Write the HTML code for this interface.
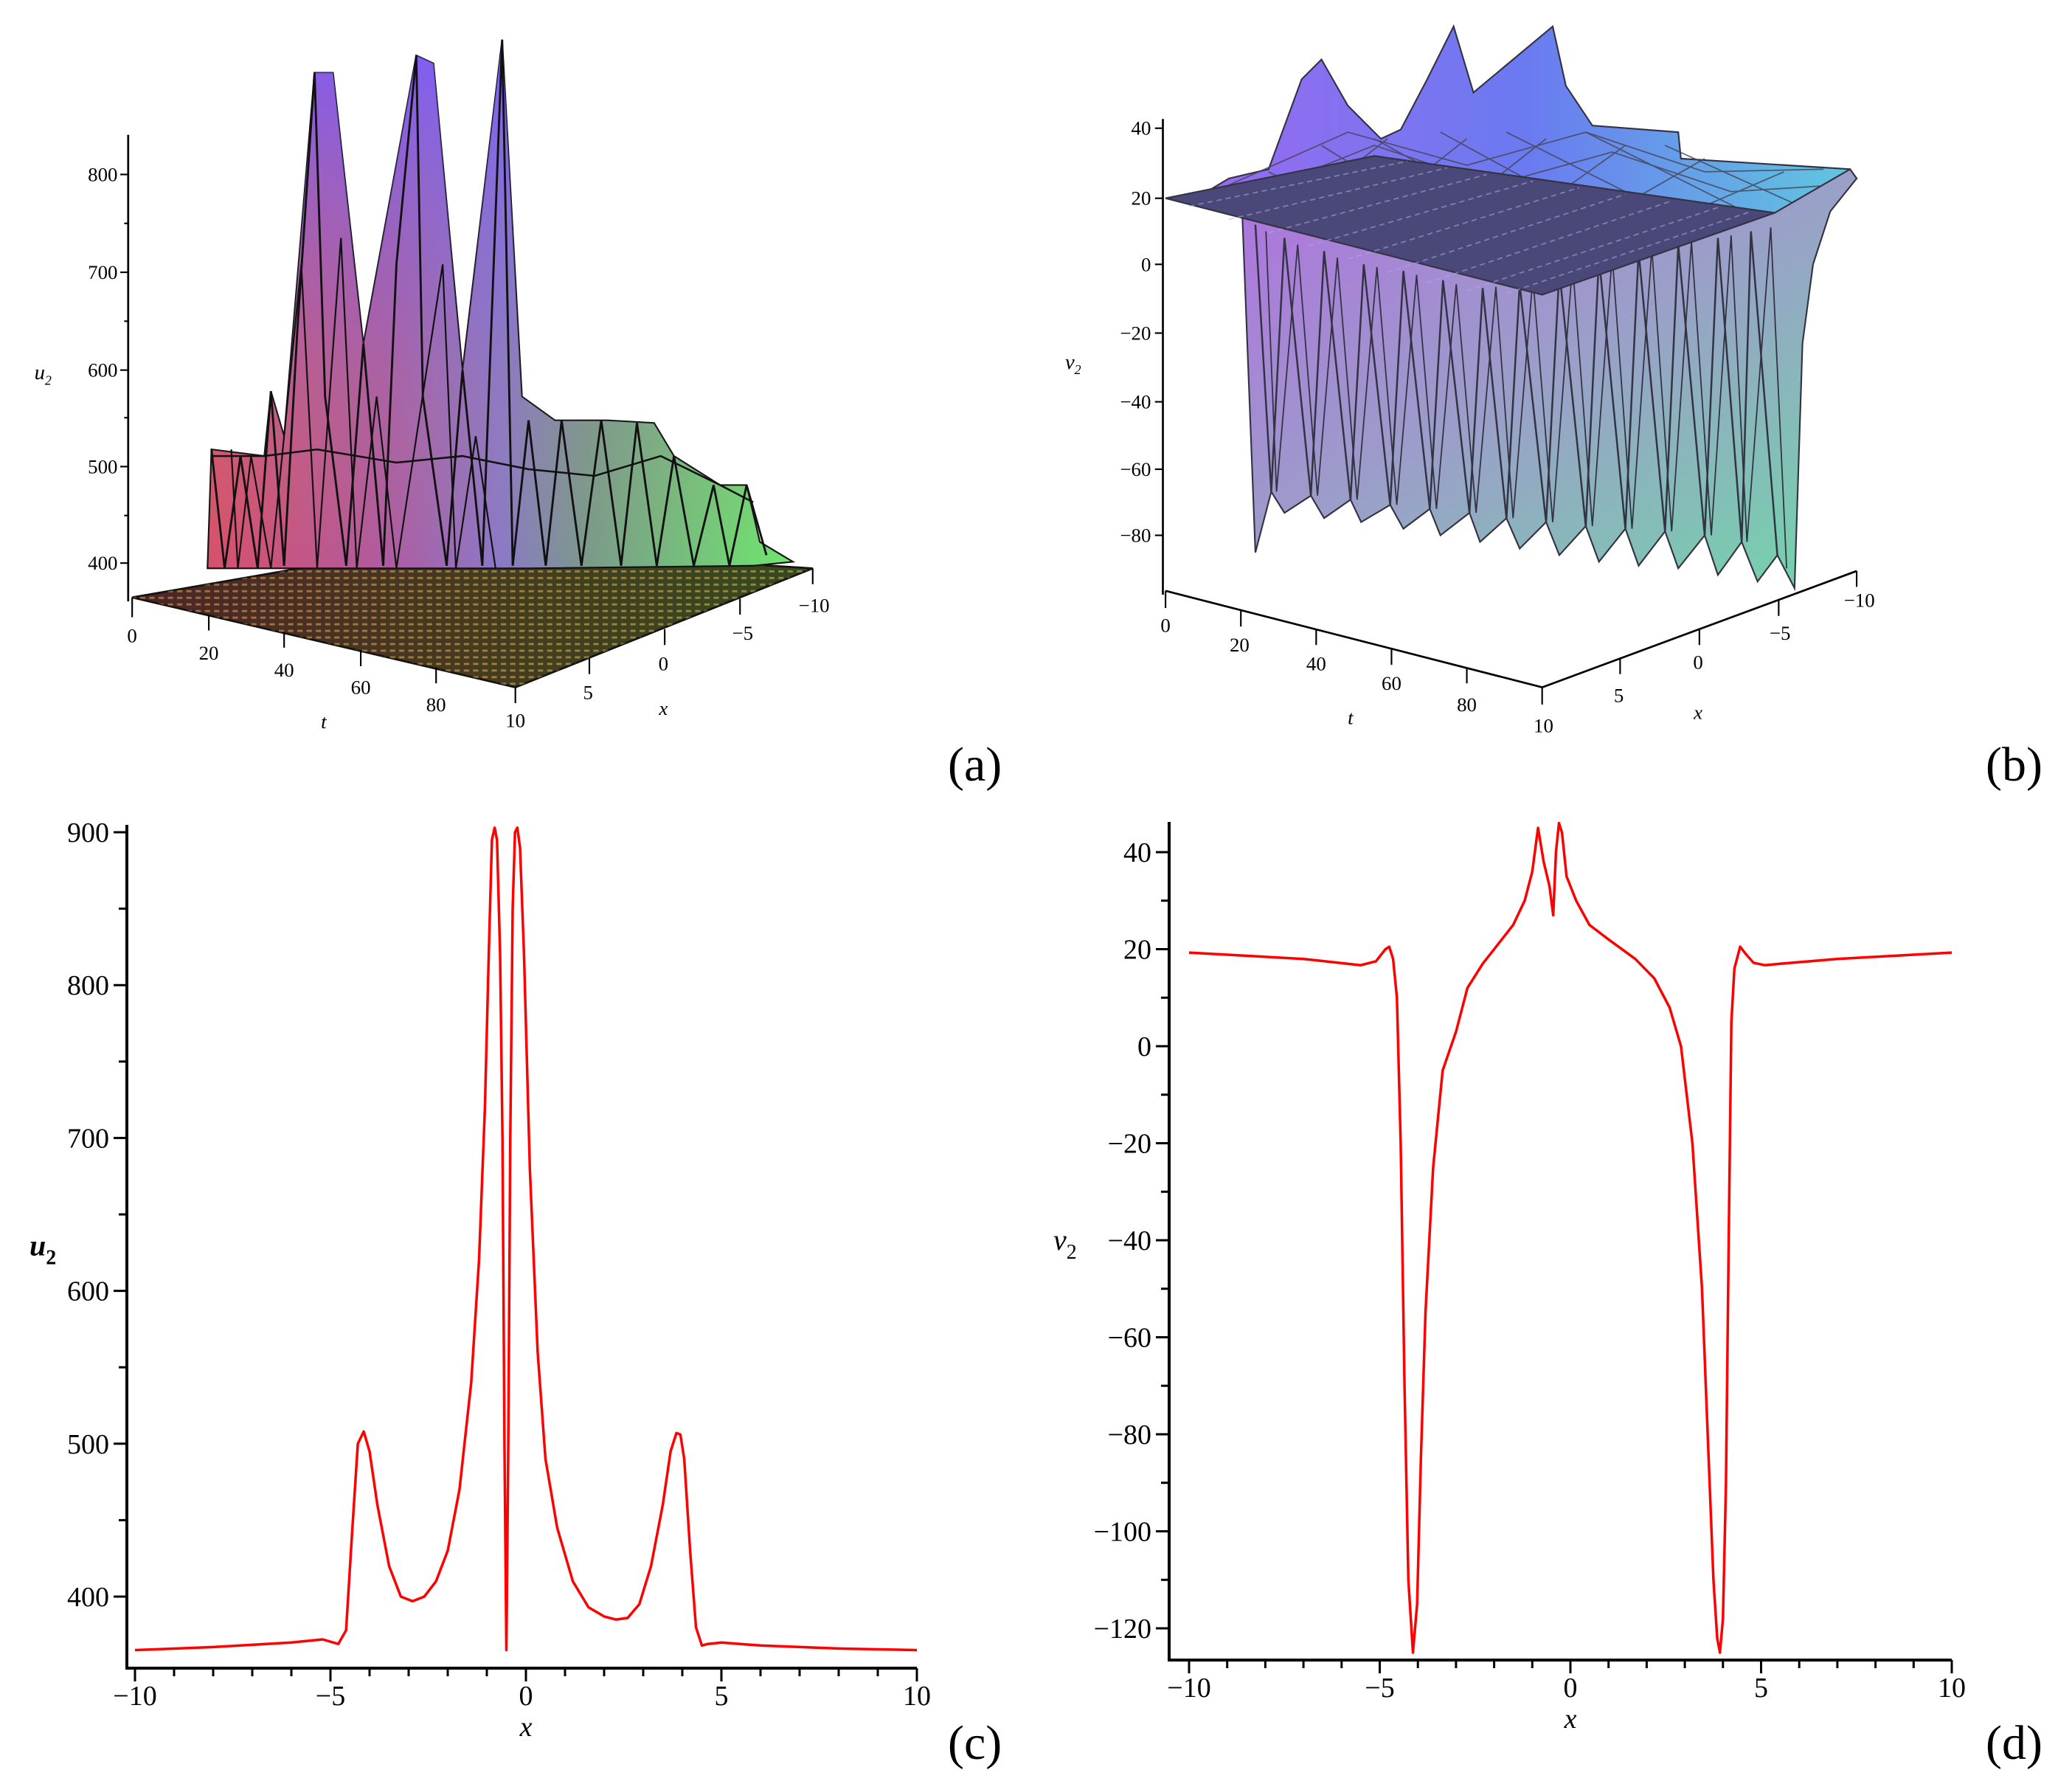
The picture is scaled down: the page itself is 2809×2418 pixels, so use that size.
<!DOCTYPE html>
<html><head><meta charset="utf-8"><style>
html,body{margin:0;padding:0;background:#fff}
svg{display:block}
text{font-family:"Liberation Serif",serif}
</style></head><body>
<svg id="fig" xmlns="http://www.w3.org/2000/svg" width="2809" height="2418" viewBox="0 0 2809 2418">
<defs>
<linearGradient id="gA" x1="0" y1="0" x2="1" y2="0">
<stop offset="0" stop-color="#d8506a"/><stop offset="0.3" stop-color="#b05aa0"/><stop offset="0.5" stop-color="#8a78c8"/><stop offset="0.65" stop-color="#7a9a8a"/><stop offset="1" stop-color="#6ee86e"/></linearGradient>
<linearGradient id="gA2" x1="0" y1="0" x2="0" y2="1">
<stop offset="0" stop-color="#7a5cff" stop-opacity="0.9"/><stop offset="0.5" stop-color="#8a70d0" stop-opacity="0.3"/><stop offset="1" stop-color="#c0a060" stop-opacity="0"/></linearGradient>
<linearGradient id="gBase" x1="0" y1="0" x2="1" y2="0">
<stop offset="0" stop-color="#8a3a40"/><stop offset="0.5" stop-color="#7a6a30"/><stop offset="1" stop-color="#5a8a30"/></linearGradient>
<pattern id="dash" width="7" height="5" patternUnits="userSpaceOnUse">
<rect width="7" height="5" fill="#1a1410"/><rect x="1" y="1.5" width="4" height="1.6" fill="#e0b060" opacity="0.8"/></pattern>
<linearGradient id="gB" x1="0" y1="0" x2="1" y2="1">
<stop offset="0" stop-color="#b070e0"/><stop offset="0.5" stop-color="#9aa0c8"/><stop offset="1" stop-color="#70d8a8"/></linearGradient>
<linearGradient id="gBtop" x1="0" y1="0" x2="1" y2="0">
<stop offset="0" stop-color="#9a6af0"/><stop offset="0.5" stop-color="#6a7af0"/><stop offset="1" stop-color="#60c8e0"/></linearGradient>
</defs>

<!-- Panel (a) -->
<g transform="scale(1.7915)">
<polygon points="100,452 330,412 615,430 390,520" fill="url(#gBase)" stroke="#111" stroke-width="1.5"/>
<polygon points="100,452 330,412 615,430 390,520" fill="url(#dash)" opacity="0.55"/>
<polygon fill="url(#gA)" stroke="#111" stroke-width="1.2"
 points="157,430 160,340 200,345 205,296 215,330 238,55 252,55 275,260 315,42 328,48 350,280 380,30 395,300 420,318 460,318 495,320 510,345 545,367 565,367 575,410 600,425 570,428 400,430"/>
<polygon points="157,430 160,340 200,345 205,296 215,330 238,55 252,55 275,260 315,42 328,48 350,280 380,30 395,300 420,318 460,318 495,320 510,345 545,367 565,367 575,410 600,425 570,428 400,430" fill="url(#gA2)"/>
<polyline fill="none" stroke="#111" stroke-width="1.6"
 points="160,340 170,430 182,345 195,430 205,296 215,428 225,250 238,55 246,300 262,428 275,260 290,428 300,200 315,42 320,300 338,428 350,280 365,428 380,30 388,428 400,318 413,428 425,318 440,428 455,318 470,428 482,320 497,428 510,345 525,428 540,367 552,428 565,367 580,420"/>
<polyline fill="none" stroke="#111" stroke-width="1.2"
 points="175,340 180,430 190,345 205,430 228,200 240,430 258,180 270,430 285,300 300,430 335,200 345,430 360,330 375,430"/>
<polyline fill="none" stroke="#111" stroke-width="1.4" points="160,345 200,345 240,340 300,350 350,345 400,355 450,360 500,345 545,367 570,380"/>
<line x1="97" y1="102" x2="97" y2="455" stroke="#000" stroke-width="1.5"/>
<g stroke="#000" stroke-width="1.2">
<line x1="91" y1="132" x2="97" y2="132"/><line x1="91" y1="206" x2="97" y2="206"/><line x1="91" y1="280" x2="97" y2="280"/><line x1="91" y1="353" x2="97" y2="353"/><line x1="91" y1="426" x2="97" y2="426"/>
<line x1="94" y1="169" x2="97" y2="169"/><line x1="94" y1="243" x2="97" y2="243"/><line x1="94" y1="316" x2="97" y2="316"/><line x1="94" y1="390" x2="97" y2="390"/>
<line x1="100" y1="452" x2="100" y2="467"/><line x1="158" y1="465" x2="158" y2="477"/><line x1="215" y1="478" x2="215" y2="490"/><line x1="273" y1="492" x2="273" y2="504"/><line x1="330" y1="505" x2="330" y2="517"/><line x1="390" y1="520" x2="390" y2="532"/>
<line x1="446" y1="498" x2="446" y2="510"/><line x1="503" y1="476" x2="503" y2="488"/><line x1="560" y1="453" x2="560" y2="465"/><line x1="615" y1="430" x2="615" y2="442"/>
</g>
<g font-family="Liberation Sans, sans-serif" font-size="15" text-anchor="end">
<text x="89" y="137">800</text><text x="89" y="211">700</text><text x="89" y="285">600</text><text x="89" y="358">500</text><text x="89" y="431">400</text>
</g>
<text x="26" y="287" font-size="16" font-style="italic">u<tspan font-size="10" dy="4">2</tspan></text>
<g font-family="Liberation Sans, sans-serif" font-size="15" text-anchor="middle">
<text x="100" y="486">0</text><text x="158" y="499">20</text><text x="215" y="512">40</text><text x="273" y="525">60</text><text x="330" y="538">80</text><text x="390" y="550">10</text>
<text x="445" y="529">5</text><text x="502" y="507">0</text><text x="562" y="484">−5</text><text x="616" y="463">−10</text>
<text x="245" y="551" font-style="italic">t</text><text x="502" y="541" font-style="italic">x</text>
</g>
</g>

<!-- Panel (b) -->
<g transform="scale(1.7915)">
<polygon fill="url(#gBtop)" stroke="#334" stroke-width="1.2"
 points="905,150 930,135 960,128 985,60 1000,45 1020,80 1045,105 1060,98 1080,60 1100,20 1115,70 1145,45 1175,20 1185,65 1205,95 1270,100 1272,120 1400,128 1405,135 1343,161"/>
<g stroke="#445" stroke-width="1" fill="none" opacity="0.8">
<path d="M930,140 L1020,100 L1110,125 L1200,100 L1290,130 L1380,128"/>
<path d="M940,150 L1040,110 L1130,140 L1220,115 L1310,145 L1390,140"/>
<path d="M960,130 L1020,160 M1000,110 L1080,160 M1040,105 L1140,160 M1090,100 L1200,160 M1140,100 L1260,160 M1200,100 L1320,160 M1260,110 L1360,155"/>
<path d="M980,160 L1050,105 M1040,160 L1110,105 M1100,160 L1170,105 M1160,160 L1230,110 M1220,160 L1290,120 M1280,160 L1350,130"/>
</g>
<polygon fill="url(#gB)" stroke="#334" stroke-width="1.2"
 points="940,160 1343,161 1400,128 1405,135 1385,160 1372,200 1364,260 1358,445 1345,420 1330,440 1318,410 1300,435 1290,405 1270,430 1260,402 1240,428 1230,400 1210,425 1200,398 1180,420 1170,395 1150,415 1140,392 1120,410 1112,388 1090,405 1082,385 1062,400 1052,382 1030,395 1022,378 1002,392 992,375 972,388 962,372 950,418"/>
<polyline fill="none" stroke="#334" stroke-width="1.4"
 points="950,170 962,372 972,180 992,375 1002,190 1022,378 1032,200 1052,382 1062,205 1082,385 1092,212 1112,388 1122,218 1140,392 1150,215 1170,395 1180,205 1200,398 1210,195 1230,400 1240,190 1260,402 1270,185 1290,405 1300,180 1318,410 1325,175 1345,420"/>
<polyline fill="none" stroke="#334" stroke-width="1" points="958,175 966,372 982,185 997,375 1012,195 1027,378 1042,202 1057,382 1072,208 1087,385 1102,215 1117,388 1132,217 1145,392 1160,210 1175,395 1190,200 1205,398 1220,193 1235,400 1250,188 1265,402 1280,183 1295,405 1310,178 1322,410 1340,172 1352,430"/>
<polygon points="882,150 1040,118 1343,161 1167,223" fill="#4a4878" stroke="#334" stroke-width="1.2"/>
<g stroke="#b0a8f0" stroke-width="1" opacity="0.55" stroke-dasharray="4,3">
<line x1="900" y1="156" x2="1065" y2="122"/><line x1="930" y1="166" x2="1095" y2="127"/><line x1="960" y1="176" x2="1125" y2="132"/><line x1="990" y1="186" x2="1160" y2="137"/><line x1="1020" y1="196" x2="1195" y2="142"/><line x1="1050" y1="206" x2="1230" y2="147"/><line x1="1080" y1="214" x2="1265" y2="152"/><line x1="1110" y1="220" x2="1300" y2="157"/><line x1="1140" y1="222" x2="1325" y2="160"/>
</g>
<line x1="880" y1="90" x2="880" y2="450" stroke="#000" stroke-width="1.5"/>
<line x1="882" y1="447" x2="1167" y2="520" stroke="#000" stroke-width="1.5"/>
<line x1="1167" y1="520" x2="1405" y2="432" stroke="#000" stroke-width="1.5"/>
<g stroke="#000" stroke-width="1.2">
<line x1="874" y1="97" x2="880" y2="97"/><line x1="874" y1="150" x2="880" y2="150"/><line x1="874" y1="200" x2="880" y2="200"/><line x1="874" y1="252" x2="880" y2="252"/><line x1="874" y1="304" x2="880" y2="304"/><line x1="874" y1="355" x2="880" y2="355"/><line x1="874" y1="405" x2="880" y2="405"/>
<line x1="882" y1="447" x2="882" y2="460"/><line x1="939" y1="462" x2="939" y2="474"/><line x1="996" y1="476" x2="996" y2="488"/><line x1="1053" y1="491" x2="1053" y2="503"/><line x1="1110" y1="505" x2="1110" y2="517"/><line x1="1167" y1="520" x2="1167" y2="533"/>
<line x1="1226" y1="498" x2="1226" y2="510"/><line x1="1286" y1="476" x2="1286" y2="488"/><line x1="1346" y1="454" x2="1346" y2="466"/><line x1="1405" y1="432" x2="1405" y2="444"/>
</g>
<g font-family="Liberation Sans, sans-serif" font-size="15" text-anchor="end">
<text x="871" y="102">40</text><text x="871" y="155">20</text><text x="871" y="205">0</text><text x="871" y="257">−20</text><text x="871" y="309">−40</text><text x="871" y="360">−60</text><text x="871" y="410">−80</text>
</g>
<text x="806" y="279" font-size="16" font-style="italic">v<tspan font-size="10" dy="4">2</tspan></text>
<g font-family="Liberation Sans, sans-serif" font-size="15" text-anchor="middle">
<text x="882" y="478">0</text><text x="938" y="493">20</text><text x="996" y="507">40</text><text x="1053" y="522">60</text><text x="1110" y="538">80</text><text x="1168" y="554">10</text>
<text x="1225" y="531">5</text><text x="1285" y="506">0</text><text x="1347" y="484">−5</text><text x="1407" y="459">−10</text>
<text x="1022" y="548" font-style="italic">t</text><text x="1285" y="544" font-style="italic">x</text>
</g>
</g>

<g font-size="66">
<text x="1285" y="1058">(a)</text>
<text x="2692" y="1058">(b)</text>
<text x="1285" y="2384">(c)</text>
<text x="2692" y="2384">(d)</text>
</g>
<g id="chartC"></g>
<g id="chartD"></g>
</svg>
<script>
const cX = [-10,-8,-6,-5.2,-4.8,-4.6,-4.45,-4.3,-4.15,-4.0,-3.8,-3.5,-3.2,-2.9,-2.6,-2.3,-2.0,-1.7,-1.4,-1.2,-1.05,-0.95,-0.87,-0.8,-0.74,-0.66,-0.6,-0.55,-0.5,-0.45,-0.4,-0.34,-0.28,-0.22,-0.15,-0.05,0.1,0.3,0.5,0.8,1.2,1.6,2.0,2.3,2.6,2.9,3.2,3.5,3.7,3.85,3.95,4.05,4.2,4.35,4.5,4.65,5.0,6,8,10];
const cU = [365,367,370,372,369,378,440,500,508,495,460,420,400,397,400,410,430,470,540,620,720,820,895,903,895,820,700,500,365,500,700,850,900,903,890,820,680,560,490,445,410,393,387,385,386,395,420,460,495,507,506,490,430,380,368,369,370,368,366,365];
const dX = [-10,-7,-5.5,-5.1,-4.85,-4.75,-4.65,-4.55,-4.45,-4.35,-4.25,-4.13,-4.02,-3.92,-3.8,-3.6,-3.35,-3.0,-2.7,-2.3,-1.9,-1.5,-1.2,-1.0,-0.85,-0.7,-0.55,-0.45,-0.38,-0.3,-0.22,-0.1,0.15,0.5,1.0,1.7,2.2,2.6,2.9,3.2,3.45,3.6,3.75,3.85,3.92,4.0,4.08,4.15,4.22,4.3,4.45,4.6,4.8,5.1,5.5,7,10];
const dV = [19.3,18,16.7,17.5,20,20.5,18,10,-20,-70,-110,-125,-115,-85,-55,-25,-5,3,12,17,21,25,30,36,45,38,33,27,40,46,44,35,30,25,22,18,14,8,0,-20,-50,-80,-110,-122,-125,-118,-90,-40,5,16,20.5,19,17.2,16.7,17,18,19.3];
const cXTicks = [-10,-5,0,5,10], cYTicks = [400,500,600,700,800,900];
const dXTicks = [-10,-5,0,5,10], dYTicks = [-120,-100,-80,-60,-40,-20,0,20,40];
const NS='http://www.w3.org/2000/svg';
function mk(parent,tag,attrs,txt){const e=document.createElementNS(NS,tag);for(const k in attrs)e.setAttribute(k,attrs[k]);if(txt!==undefined)e.textContent=txt;parent.appendChild(e);return e;}
function chart(id,cfg){
 const g=document.getElementById(id);
 const sx=v=>cfg.x0+(v-cfg.xmin)*(cfg.x1-cfg.x0)/(cfg.xmax-cfg.xmin);
 const sy=v=>cfg.y0+(v-cfg.ya)*(cfg.y1-cfg.y0)/(cfg.yb-cfg.ya);
 const ax=mk(g,'path',{d:`M${cfg.axX},${cfg.top} V${cfg.bot} H${sx(cfg.xmax)}`,fill:'none',stroke:'#000','stroke-width':4});
 
 
 for(let v=cfg.xmin;v<=cfg.xmax;v+=1){const maj=v%5===0;mk(g,'line',{x1:sx(v),x2:sx(v),y1:cfg.bot,y2:cfg.bot+(maj?18:11),stroke:'#000','stroke-width':3});}
 for(let v=cfg.minStart;v<=cfg.minEnd;v+=cfg.minStep){const maj=cfg.yt.includes(v);mk(g,'line',{x1:cfg.axX-(maj?18:11),x2:cfg.axX,y1:sy(v),y2:sy(v),stroke:'#000','stroke-width':3});}
 cfg.xt.forEach(v=>{const t=mk(g,'text',{x:sx(v),y:cfg.bot+50,'font-size':38,'text-anchor':'middle'},v<0?'−'+(-v):String(v));
  
  });
 cfg.yt.forEach(v=>{const t=mk(g,'text',{x:cfg.axX-24,y:sy(v)+13,'font-size':38,'text-anchor':'end'},v<0?'−'+(-v):String(v));
  
  });
 const xl=mk(g,'text',{x:sx(0),y:cfg.bot+92,'font-size':38,'font-style':'italic','text-anchor':'middle'},'x');
 
 
 const yl=mk(g,'text',{x:cfg.ylx,y:(cfg.top+cfg.bot)/2+12,'font-size':40,'font-style':'italic','font-weight':cfg.bold?'bold':'normal'});
 
 
 yl.textContent=cfg.yname;
 mk(yl,'tspan',{dy:12,'font-size':28,'font-style':'normal'},'2');
 const pts=cfg.xs.map((x,i)=>sx(x).toFixed(1)+','+sy(cfg.ys[i]).toFixed(1)).join(' ');
 const line=mk(g,'polyline',{points:pts,fill:'none',stroke:'#ff0000','stroke-width':3.5,'stroke-linejoin':'round'});
 
 
}
chart('chartC',{x0:183,x1:1243,xmin:-10,xmax:10,y0:1128,y1:2164,ya:900,yb:400,axX:172,top:1118,bot:2261,minStart:400,minEnd:900,minStep:50,xt:cXTicks,yt:cYTicks,xs:cX,ys:cU,yname:'u',ylx:40,bold:true});
chart('chartD',{x0:1612,x1:2646,xmin:-10,xmax:10,y0:1155,y1:2207,ya:40,yb:-120,axX:1585,top:1114,bot:2250,minStart:-120,minEnd:40,minStep:10,xt:dXTicks,yt:dYTicks,xs:dX,ys:dV,yname:'v',ylx:1428,bold:false});
</script>
</body></html>
